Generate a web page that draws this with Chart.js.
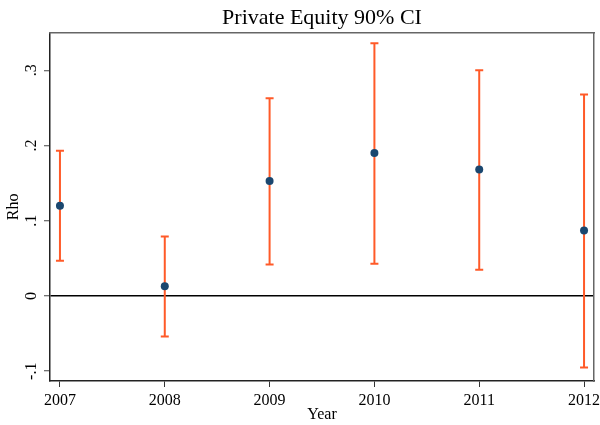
<!DOCTYPE html>
<html>
<head>
<meta charset="utf-8">
<script src="https://cdn.jsdelivr.net/npm/chart.js@4/dist/chart.umd.min.js"></script>
<style>
  html, body { margin: 0; padding: 0; background: #ffffff; }
  #c { display: block; }
</style>
</head>
<body>
<canvas id="c" width="600" height="425"></canvas>
<script>
const years = [2007, 2008, 2009, 2010, 2011, 2012];
const rho = [0.120, 0.013, 0.153, 0.190, 0.168, 0.087];
const ciLow = [0.047, -0.054, 0.042, 0.043, 0.035, -0.095];
const ciHigh = [0.193, 0.079, 0.263, 0.336, 0.300, 0.268];
const yTickValues = [-0.1, 0, 0.1, 0.2, 0.3];
const yTickLabels = ['-.1', '0', '.1', '.2', '.3'];

const FONT = 'Liberation Serif';
const POINT_COLOR = '#1a476f';
const CI_COLOR = '#ff5a28';

const pointDataset = {
  label: 'Rho',
  data: years.map((yr, i) => ({ x: yr, y: rho[i] })),
  backgroundColor: POINT_COLOR,
  borderColor: POINT_COLOR,
  pointRadius: 4,
  pointHoverRadius: 4,
  borderWidth: 0,
  showLine: false
};

const ciDatasets = years.map((yr, i) => ({
  label: 'CI ' + yr,
  data: [{ x: yr, y: ciLow[i] }, { x: yr, y: ciHigh[i] }],
  showLine: true,
  borderColor: CI_COLOR,
  borderWidth: 2,
  pointStyle: 'line',
  pointRadius: 4,
  pointHoverRadius: 4,
  pointBorderWidth: 2,
  pointBorderColor: CI_COLOR,
  pointBackgroundColor: CI_COLOR,
  fill: false
}));

new Chart(document.getElementById('c'), {
  type: 'scatter',
  data: { datasets: [pointDataset, ...ciDatasets] },
  options: {
    responsive: false,
    animation: false,
    devicePixelRatio: 1,
    layout: { padding: { left: 0, right: 4, top: 0, bottom: 0 } },
    plugins: {
      legend: { display: false },
      tooltip: { enabled: false },
      title: {
        display: true,
        fullSize: false,
        text: 'Private Equity 90% CI',
        color: '#000',
        font: { family: FONT, size: 22, weight: 'normal' },
        padding: { top: 5, bottom: 1.3 }
      }
    },
    scales: {
      x: {
        type: 'linear',
        position: 'bottom',
        min: 2006.905,
        max: 2012.095,
        afterBuildTicks: (scale) => { scale.ticks = years.map(v => ({ value: v })); },
        afterFit: (scale) => { scale.height = 44; scale.paddingLeft = 0; scale.paddingRight = 0; },
        grid: { display: true, drawOnChartArea: false, drawTicks: true, tickLength: 6, tickColor: '#333', tickWidth: 1 },
        border: { display: true, color: '#222', width: 1.5 },
        ticks: {
          color: '#000',
          padding: 4,
          maxRotation: 0,
          autoSkip: false,
          font: { family: FONT, size: 16 },
          callback: (v) => String(v)
        },
        title: {
          display: true,
          text: 'Year',
          color: '#000',
          font: { family: FONT, size: 16 },
          padding: { top: 0, bottom: 1 }
        }
      },
      y: {
        type: 'linear',
        position: 'left',
        min: -0.113,
        max: 0.35,
        afterBuildTicks: (scale) => { scale.ticks = yTickValues.map(v => ({ value: v })); },
        afterFit: (scale) => { scale.width = 50; scale.paddingTop = 0; scale.paddingBottom = 0; },
        grid: {
          display: true,
          drawOnChartArea: true,
          drawTicks: true,
          tickLength: 6,
          color: (ctx) => (ctx.tick && Math.abs(ctx.tick.value) < 1e-9) ? '#000' : 'rgba(0,0,0,0)',
          lineWidth: 1.5,
          tickColor: '#444',
          tickWidth: 1
        },
        border: { display: true, color: '#222', width: 1.5 },
        ticks: {
          color: '#000',
          padding: 3.6,
          minRotation: 90,
          maxRotation: 90,
          crossAlign: 'center',
          autoSkip: false,
          font: { family: FONT, size: 16 },
          callback: (v, i) => yTickLabels[i]
        },
        title: {
          display: true,
          text: 'Rho',
          color: '#000',
          font: { family: FONT, size: 16 },
          padding: { top: 4, bottom: 0 }
        }
      },
      xTop: {
        type: 'linear',
        position: 'top',
        display: true,
        afterFit: (scale) => { scale.height = 0; scale.paddingLeft = 0; scale.paddingRight = 0; },
        grid: { display: false, drawTicks: false },
        ticks: { display: false },
        border: { display: true, color: '#666', width: 1.5 }
      },
      yRight: {
        type: 'linear',
        position: 'right',
        display: true,
        afterFit: (scale) => { scale.width = 0; scale.paddingTop = 0; scale.paddingBottom = 0; },
        grid: { display: false, drawTicks: false },
        ticks: { display: false },
        border: { display: true, color: '#666', width: 1.5 }
      }
    }
  }
});
</script>
</body>
</html>
